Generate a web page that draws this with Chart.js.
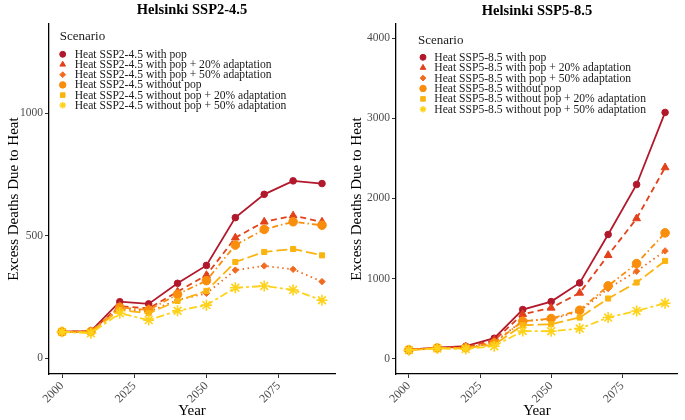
<!DOCTYPE html>
<html>
<head>
<meta charset="utf-8">
<script src="https://cdn.jsdelivr.net/npm/chart.js@4.4.0/dist/chart.umd.min.js"></script>
<style>
  html, body { margin: 0; padding: 0; background: #fff; }
  #wrap { position: relative; width: 685px; height: 420px; }
  canvas { position: absolute; top: 0; }
</style>
</head>
<body>
<div id="wrap">
  <canvas id="left" width="343" height="420" style="left:0"></canvas>
  <canvas id="right" width="342" height="420" style="left:343px"></canvas>
</div>
<script>
const years = [2000, 2010, 2020, 2030, 2040, 2050, 2060, 2070, 2080, 2090];
const xTicks = [2000, 2025, 2050, 2075];

// Helsinki SSP2-4.5
const ssp245Labels = [
  'Heat SSP2-4.5 with pop',
  'Heat SSP2-4.5 with pop + 20% adaptation',
  'Heat SSP2-4.5 with pop + 50% adaptation',
  'Heat SSP2-4.5 without pop',
  'Heat SSP2-4.5 without pop + 20% adaptation',
  'Heat SSP2-4.5 without pop + 50% adaptation'
];
const withPop245   = [109, 111, 231, 222, 306, 379, 574, 669, 724, 713];
const withPop20_245 = [108, 110, 213, 204, 272, 339, 492, 557, 582, 557];
const withPop50_245 = [108, 109, 202, 190, 238, 265, 360, 377, 363, 313];
const noPop245     = [108, 109, 208, 197, 261, 317, 462, 526, 557, 543];
const noPop20_245  = [108, 107, 197, 184, 234, 275, 393, 434, 446, 420];
const noPop50_245  = [108, 102, 184, 156, 194, 217, 288, 295, 279, 237];
const yTicks245 = [0, 500, 1000];

// Helsinki SSP5-8.5
const ssp585Labels = [
  'Heat SSP5-8.5 with pop',
  'Heat SSP5-8.5 with pop + 20% adaptation',
  'Heat SSP5-8.5 with pop + 50% adaptation',
  'Heat SSP5-8.5 without pop',
  'Heat SSP5-8.5 without pop + 20% adaptation',
  'Heat SSP5-8.5 without pop + 50% adaptation'
];
const withPop585   = [112, 137, 154, 254, 612, 712, 945, 1550, 2175, 3075];
const withPop20_585 = [110, 135, 145, 229, 554, 633, 820, 1291, 1750, 2387];
const withPop50_585 = [108, 131, 138, 208, 470, 490, 590, 875, 1091, 1345];
const noPop585     = [108, 132, 135, 195, 466, 500, 604, 908, 1187, 1570];
const noPop20_585  = [106, 130, 128, 175, 416, 429, 512, 750, 950, 1220];
const noPop50_585  = [105, 125, 120, 154, 345, 341, 375, 512, 595, 691];
const yTicks585 = [0, 1000, 2000, 3000, 4000];

const colors = ['#B2182B', '#E2421B', '#F26A1E', '#F98E0C', '#FBB40F', '#FFD21A'];
const styles = [
  { dash: [],            point: 'circle',   r: 3.3 },
  { dash: [6, 4],        point: 'triangle', r: 4.5 },
  { dash: [1.5, 3.5],    point: 'rectRot',  r: 3.2 },
  { dash: [1.5, 3, 6, 3], point: 'circle',  r: 4.3 },
  { dash: [11, 4],       point: 'rect',     r: 3.6 },
  { dash: [8, 3, 3, 3],  point: 'star',     r: 5.5 }
];
const serif = '"Liberation Serif", "Times New Roman", serif';

function makeDatasets(labels, series) {
  return series.map((vals, i) => ({
    label: labels[i],
    data: vals.map((v, k) => ({ x: years[k], y: v })),
    borderColor: colors[i],
    backgroundColor: colors[i],
    borderWidth: 1.8,
    borderDash: styles[i].dash,
    pointStyle: styles[i].point,
    pointRadius: styles[i].r,
    pointBorderWidth: styles[i].point === 'star' ? 1.6 : 1,
    pointBackgroundColor: colors[i],
    pointBorderColor: colors[i],
    tension: 0,
    order: 5 - i
  }));
}

function marker(ctx, style, r, x, y, color) {
  ctx.save();
  ctx.fillStyle = color;
  ctx.strokeStyle = color;
  ctx.lineWidth = style === 'star' ? 1.4 : 1;
  if (Chart.helpers && Chart.helpers.drawPoint) {
    Chart.helpers.drawPoint(ctx, { pointStyle: style, radius: r, rotation: 0, borderWidth: ctx.lineWidth }, x, y);
  } else {
    ctx.beginPath();
    ctx.arc(x, y, r, 0, Math.PI * 2);
    ctx.fill();
  }
  ctx.restore();
}

const decor = {
  id: 'decor',
  afterDraw(chart, args, opts) {
    const ctx = chart.ctx;
    const a = chart.chartArea;
    ctx.save();
    ctx.fillStyle = '#000';
    ctx.textBaseline = 'middle';
    ctx.textAlign = 'center';
    ctx.font = 'bold 14.5px ' + serif;
    ctx.fillText(opts.title, (a.left + a.right) / 2, opts.titleY);
    ctx.textAlign = 'left';
    ctx.fillStyle = '#1a1a1a';
    ctx.font = '13px ' + serif;
    ctx.fillText('Scenario', a.left + opts.lx, a.top + opts.ly);
    ctx.font = '11.6px ' + serif;
    chart.data.datasets.forEach((ds, i) => {
      const y = a.top + opts.ry + opts.step * i;
      marker(ctx, styles[i].point, Math.min(styles[i].r, 3.6) * 0.9, a.left + opts.mx, y, colors[i]);
      ctx.fillStyle = '#1a1a1a';
      ctx.fillText(ds.label, a.left + opts.tx, y + 0.5);
    });
    ctx.restore();
  }
};

function makeChart(id, labels, series, yMin, yMax, yTicks, yWidth, padRight, deco) {
  return new Chart(document.getElementById(id), {
    type: 'line',
    data: { datasets: makeDatasets(labels, series) },
    plugins: [decor],
    options: {
      responsive: false,
      animation: false,
      devicePixelRatio: 1,
      layout: { padding: { top: 24, right: padRight, left: 0, bottom: 0 } },
      plugins: {
        legend: { display: false },
        tooltip: { enabled: false },
        decor: deco
      },
      scales: {
        x: {
          type: 'linear',
          min: 1995.5,
          max: 2094.5,
          afterBuildTicks: s => { s.ticks = xTicks.map(v => ({ value: v })); },
          afterFit: s => { s.height = 46; },
          border: { display: true, color: '#000', width: 1.3 },
          grid: { drawOnChartArea: false, drawTicks: true, tickLength: 4, color: '#333' },
          ticks: {
            minRotation: 45, maxRotation: 45, padding: 1,
            color: '#4D4D4D', font: { family: serif, size: 12 },
            callback: v => String(v)
          },
          title: {
            display: true, text: 'Year', color: '#000',
            font: { family: serif, size: 15 }, padding: { top: 0, bottom: 0 }
          }
        },
        y: {
          min: yMin,
          max: yMax,
          afterBuildTicks: s => { s.ticks = yTicks.map(v => ({ value: v })); },
          afterFit: s => { s.width = yWidth; },
          border: { display: true, color: '#000', width: 1.3 },
          grid: { drawOnChartArea: false, drawTicks: true, tickLength: 4, color: '#333' },
          ticks: {
            padding: 2, color: '#4D4D4D', font: { family: serif, size: 11.5 },
            callback: v => String(v)
          },
          title: {
            display: true, text: 'Excess Deaths Due to Heat', color: '#000',
            font: { family: serif, size: 15 }, padding: { top: 5, bottom: 0 }
          }
        }
      }
    }
  });
}

makeChart('left', ssp245Labels,
  [withPop245, withPop20_245, withPop50_245, noPop245, noPop20_245, noPop50_245],
  -64, 1364, yTicks245, 49, 8,
  { title: 'Helsinki SSP2-4.5', titleY: 10, lx: 10.7, ly: 13, mx: 13.7, tx: 25.7, ry: 30.3, step: 10.2 });

makeChart('right', ssp585Labels,
  [withPop585, withPop20_585, withPop50_585, noPop585, noPop20_585, noPop50_585],
  -193, 4180, yTicks585, 53, 3,
  { title: 'Helsinki SSP5-8.5', titleY: 11, lx: 22, ly: 16.7, mx: 27, tx: 38.3, ry: 33.3, step: 10.4 });
</script>
</body>
</html>
